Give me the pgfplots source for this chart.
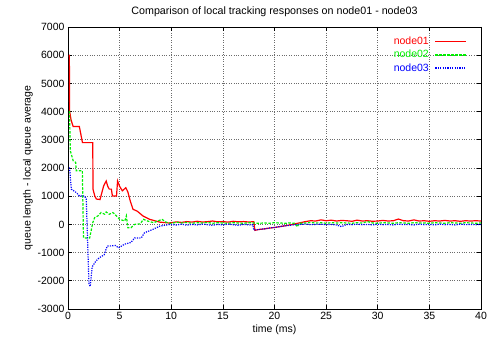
\documentclass[border=0pt]{standalone}
\usepackage{fontspec}
\setmainfont{Liberation Sans}
\usepackage{pgfplots}
\pgfplotsset{compat=1.18}
\definecolor{gpred}{RGB}{255,0,0}
\definecolor{gpgreen}{RGB}{0,240,0}
\definecolor{gpblue}{RGB}{0,0,255}
\begin{document}
\begin{tikzpicture}
\useasboundingbox (-68pt,-35pt) rectangle (421pt,309pt);
\begin{axis}[
  at={(0pt,0pt)}, anchor=south west,
  scale only axis, width=413pt, height=282pt,
  xmin=0, xmax=40, ymin=-3000, ymax=7000,
  xtick={0,5,...,40}, ytick={-3000,-2000,...,7000},
  scaled ticks=false,
  /pgf/number format/1000 sep={},
  /pgf/number format/assume math mode=true,
  tick label style={font=\fontsize{10.5}{12}\selectfont},
  label style={font=\fontsize{10.5}{12}\selectfont},
  title style={font=\fontsize{10.7}{12}\selectfont, yshift=1pt},
  title={Comparison of local tracking responses on node01 - node03},
  xlabel={time (ms)},
  ylabel={queue length - local queue average},
  xlabel style={yshift=2pt},
  ylabel style={yshift=-2pt},
  grid=major,
  major grid style={dotted, gray!85!black, line width=0.7pt},
  tick align=inside,
  major tick length=4pt,
  tick style={black, line width=0.6pt},
  axis line style={black, line width=0.9pt},
  legend plot pos=right,
  legend style={draw=none, fill=none, at={(0.969,0.975)}, anchor=north east,
    font=\fontsize{10.5}{11}\selectfont, row sep=0pt, inner sep=1pt,
    /tikz/every odd column/.append style={column sep=4pt}},
]
\addplot[color=gpred, line width=1.2pt,
  legend image code/.code={\draw[gpred, line width=1.2pt] (0pt,0pt) -- (31pt,0pt);}] coordinates {
(0.1,6000) (0.13,6000) (0.16,4000) (0.3,3700) (0.5,3470) (1.1,3470) (1.4,2900) (2.4,2900)
(2.42,1250) (2.6,1000) (2.75,900) (3.1,880) (3.45,1360) (3.7,1540) (3.85,1350) (4.0,1250) (4.2,1250)
(4.3,1010) (4.7,1010) (4.8,1540) (5.0,1350) (5.26,1190) (5.6,1300) (5.8,1150) (6.03,830) (6.3,535)
(6.7,470) (7.26,300) (7.9,180) (8.9,80) (9.8,50)
(10,60) (10.5,90) (11,70) (11.5,100) (12,80) (12.5,110) (13,85) (13.5,95) (14,120) (14.5,90)
(15,100) (15.5,80) (16,110) (16.5,90) (17,100) (17.5,85) (18,95) (18.1,-210) (18.5,-180) (19,-160)
(19.5,-130) (20,-110) (20.5,-80) (21,-50) (21.5,-20) (22,20) (22.5,60) (23,100) (23.5,130) (24,120)
(24.5,160) (25,130) (25.5,150) (26,120) (26.5,140) (27,130) (27.5,110) (28,150) (28.5,120) (29,130)
(29.5,110) (30,120) (30.5,140) (31,120) (31.5,130) (32,190) (32.5,130) (33,120) (33.5,160) (34,120)
(34.5,130) (35,110) (35.5,130) (36,120) (36.5,140) (37,120) (37.5,130) (38,110) (38.5,130) (39,120)
(39.5,130) (40,120)
};
\addlegendentry[text=gpred]{node01}
\addplot[color=gpgreen, dash pattern=on 2.5pt off 1.5pt, line width=1.2pt,
  legend image code/.code={\draw[gpgreen, dash pattern=on 2.5pt off 1.5pt, line width=1.2pt] (0pt,0pt) -- (31pt,0pt);}] coordinates {
(0.1,4000) (0.15,4000) (0.22,2620) (0.5,2260) (0.74,2200) (0.8,1900) (1.39,1900) (1.5,-480)
(2.1,-480) (2.4,60) (2.58,240) (2.9,300) (3.2,420) (3.55,360) (3.7,440) (4.0,360) (4.35,420) (4.7,300)
(5.0,180) (5.5,120) (5.65,300) (5.8,-120) (6.1,-120) (6.45,0) (7.0,20) (7.3,180) (7.7,120) (8.3,60)
(9.1,180) (9.5,80) (10,30)
(10.5,80) (11,50) (11.5,70) (12,40) (12.5,60) (13,50) (13.5,70) (14,40) (14.5,60) (15,50) (15.5,40)
(16,60) (16.5,50) (17,40) (17.5,60) (18,50) (18.5,40) (19,50) (19.5,40) (20,60) (20.5,50) (21,40)
(21.5,50) (22,40) (22.2,-90) (22.4,40) (23,50) (23.5,70) (24,50) (24.5,60) (25,40) (25.5,60) (26,50)
(26.5,60) (27,50) (27.5,40) (28,60) (28.5,50) (29,100) (29.5,50) (30,40) (30.5,60) (31,50) (31.5,40)
(32,60) (32.5,50) (33,40) (33.5,60) (34,50) (34.5,50) (35,40) (35.5,60) (36,50) (36.5,40) (37,60)
(37.5,50) (38,40) (38.5,60) (39,50) (39.5,40) (40,50)
};
\addlegendentry[text=gpgreen]{node02}
\addplot[color=gpblue, dash pattern=on 1.2pt off 1.2pt, line width=1.2pt,
  legend image code/.code={\draw[gpblue, dash pattern=on 1.2pt off 1.2pt, line width=1.2pt] (0pt,0pt) -- (31pt,0pt);}] coordinates {
(0.1,2000) (0.15,2000) (0.32,1250) (0.8,1130) (1.1,1010) (1.6,1010) (1.77,900) (2.03,-2100)
(2.15,-2200) (2.35,-1500) (2.7,-1300) (3.0,-1190) (3.5,-1080) (3.8,-770) (4.6,-750) (4.9,-830) (5.5,-700)
(6.1,-640) (6.45,-480) (7.1,-480) (7.4,-300) (8.2,-180) (8.9,-60) (9.9,0)
(10.5,-20) (11,10) (11.5,-30) (12,0) (12.5,-20) (13,10) (13.5,-10) (14,-30) (14.5,0) (15,-20) (15.5,10)
(16,-10) (16.5,-30) (17,0) (17.5,-20) (17.9,-10) (18,-200) (18.5,-180) (19,-160) (19.5,-130) (20,-110)
(20.5,-80) (21,-50) (21.5,-30) (22,-10) (22.5,0) (23,10) (23.5,-10) (24,0) (24.5,10) (25,-10) (25.5,0)
(26,-20) (26.5,-80) (27,0) (27.5,-10) (28,10) (28.5,-10) (29,0) (29.5,-20) (30,10) (30.5,-10) (31,0)
(31.5,-20) (32,10) (32.5,-10) (33,0) (33.5,-20) (34,10) (34.5,-10) (35,0) (35.5,-20) (36,10) (36.5,-10)
(37,0) (37.5,-20) (38,10) (38.5,-10) (39,0) (39.5,-10) (40,0)
};
\addlegendentry[text=gpblue]{node03}
\end{axis}
\end{tikzpicture}
\end{document}
